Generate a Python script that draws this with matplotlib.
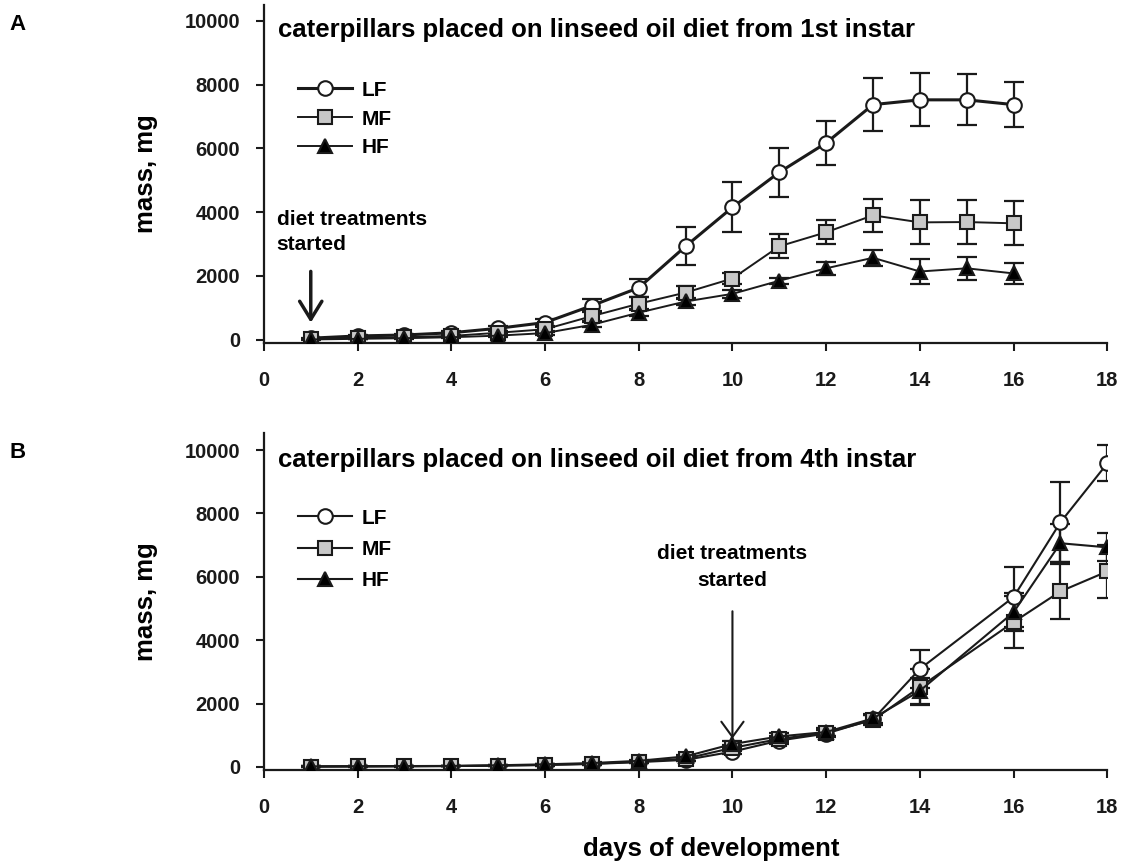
import matplotlib
matplotlib.use('Agg')
import matplotlib.pyplot as plt

plt.rcParams['font.family'] = ['Liberation Sans', 'DejaVu Sans']
plt.rcParams['font.weight'] = 'bold'
plt.rcParams['axes.labelweight'] = 'bold'

# panel A: caterpillars on linseed oil diet from 1st instar
days_a = [1, 2, 3, 4, 5, 6, 7, 8, 9, 10, 11, 12, 13, 14, 15, 16]
a_lf = [50, 120, 150, 220, 360, 540, 1070, 1630, 2930, 4150, 5250, 6170, 7370, 7520, 7520, 7370]
a_lf_err = [20, 30, 40, 60, 80, 120, 200, 280, 590, 780, 770, 680, 820, 830, 800, 700]
a_mf = [20, 60, 80, 120, 220, 330, 740, 1130, 1480, 1920, 2930, 3370, 3900, 3680, 3690, 3650]
a_mf_err = [10, 20, 30, 40, 60, 80, 150, 200, 200, 180, 370, 370, 520, 690, 690, 690]
a_hf = [10, 30, 50, 80, 130, 210, 470, 850, 1200, 1440, 1850, 2240, 2570, 2140, 2240, 2080]
a_hf_err = [5, 10, 20, 30, 40, 60, 80, 100, 100, 120, 100, 200, 250, 380, 370, 340]

# panel B: caterpillars on linseed oil diet from 4th instar
days_b = [1, 2, 3, 4, 5, 6, 7, 8, 9, 10, 11, 12, 13, 14, 16, 17, 18]
b_lf = [10, 15, 20, 25, 40, 60, 90, 150, 220, 480, 830, 1050, 1500, 3090, 5360, 7720, 9580]
b_lf_err = [5, 5, 10, 10, 15, 20, 30, 40, 50, 80, 100, 120, 150, 600, 940, 1260, 570]
b_mf = [10, 15, 20, 25, 40, 60, 100, 160, 260, 600, 880, 1080, 1480, 2520, 4570, 5540, 6170]
b_mf_err = [5, 5, 10, 10, 15, 20, 30, 40, 60, 100, 100, 120, 150, 570, 820, 880, 850]
b_hf = [15, 20, 25, 30, 50, 80, 120, 190, 330, 720, 960, 1100, 1530, 2400, 4880, 7060, 6930]
b_hf_err = [5, 5, 10, 10, 15, 20, 30, 40, 60, 100, 100, 120, 150, 420, 600, 600, 440]

labels = ['LF', 'MF', 'HF']
x_ticks = [0, 2, 4, 6, 8, 10, 12, 14, 16, 18]
y_ticks = [0, 2000, 4000, 6000, 8000, 10000]

styles = {
    'LF': dict(marker='o', mfc='white', ms=10.5),
    'MF': dict(marker='s', mfc='#c8c8c8', ms=9.5),
    'HF': dict(marker='^', mfc='black', ms=10),
}


def draw_panel(ax, days, series, lws, title, ytop, legend_spacing):
    for (lab, vals, errs), lw in zip(series, lws):
        ax.errorbar(days, vals, yerr=errs, fmt='none', ecolor='#1a1a1a',
                    elinewidth=1.6, capsize=7, capthick=1.6, zorder=2)
        st = styles[lab]
        ax.plot(days, vals, color='#1a1a1a', lw=lw, marker=st['marker'],
                ms=st['ms'], mfc=st['mfc'], mec='#1a1a1a', mew=1.5,
                label=lab, zorder=3)
    ax.set_xlim(0, 18)
    ax.set_ylim(-100, ytop)
    ax.set_xticks(x_ticks)
    ax.set_yticks(y_ticks)
    for s in ['top', 'right']:
        ax.spines[s].set_visible(False)
    for s in ['left', 'bottom']:
        ax.spines[s].set_linewidth(1.6)
        ax.spines[s].set_color('#1a1a1a')
    ax.tick_params(direction='out', length=6, width=1.5, colors='#1a1a1a',
                   labelsize=14.5)
    ax.tick_params(axis='x', pad=14)
    ax.tick_params(axis='y', pad=11)
    ax.set_ylabel('mass, mg', fontsize=18.5)
    ax.yaxis.label.set_va('center')
    ax.yaxis.set_label_coords(-0.14, 0.5)
    ax.text(0.3, 9700, title, fontsize=18.5, va='center', ha='left')
    ax.legend(loc='upper left', bbox_to_anchor=(0.03, 0.8), frameon=False,
              prop={'size': 15, 'weight': 'bold'}, handlelength=2.6,
              handletextpad=0.5, labelspacing=legend_spacing, borderaxespad=0)


fig = plt.figure(figsize=(11.23, 8.65), dpi=100)
ax_a = fig.add_axes([0.235, 0.6035, 0.751, 0.391])
ax_b = fig.add_axes([0.235, 0.1098, 0.751, 0.3896])

draw_panel(ax_a, days_a,
           [('LF', a_lf, a_lf_err), ('MF', a_mf, a_mf_err), ('HF', a_hf, a_hf_err)],
           [2.2, 1.4, 1.4],
           'caterpillars placed on linseed oil diet from 1st instar', 10500, 0.47)
draw_panel(ax_b, days_b,
           [('LF', b_lf, b_lf_err), ('MF', b_mf, b_mf_err), ('HF', b_hf, b_hf_err)],
           [1.5, 1.5, 1.5],
           'caterpillars placed on linseed oil diet from 4th instar', 10540, 0.58)

# arrows marking when diet treatments began
ax_a.annotate('', xy=(1, 450), xytext=(1, 2230),
              arrowprops=dict(arrowstyle='->, head_length=1.3, head_width=0.8',
                              mutation_scale=10, lw=2.5, color='#1a1a1a'))
ax_a.text(0.27, 3780, 'diet treatments', fontsize=15, ha='left', va='center')
ax_a.text(0.27, 3000, 'started', fontsize=15, ha='left', va='center')

ax_b.annotate('', xy=(10, 800), xytext=(10, 5000),
              arrowprops=dict(arrowstyle='->, head_length=1.1, head_width=0.8',
                              mutation_scale=10, lw=1.5, color='#1a1a1a'))
ax_b.text(10, 6740, 'diet treatments', fontsize=15, ha='center', va='center')
ax_b.text(10, 5890, 'started', fontsize=15, ha='center', va='center')

ax_b.set_xlabel('days of development', fontsize=18.5)
ax_b.xaxis.set_label_coords(0.53, -0.2)

fig.text(18 / 1123, 1 - 25 / 865, 'A', fontsize=16, fontweight='bold',
         ha='center', va='center')
fig.text(18 / 1123, 1 - 453 / 865, 'B', fontsize=16, fontweight='bold',
         ha='center', va='center')

fig.savefig('out.png', dpi=100)
